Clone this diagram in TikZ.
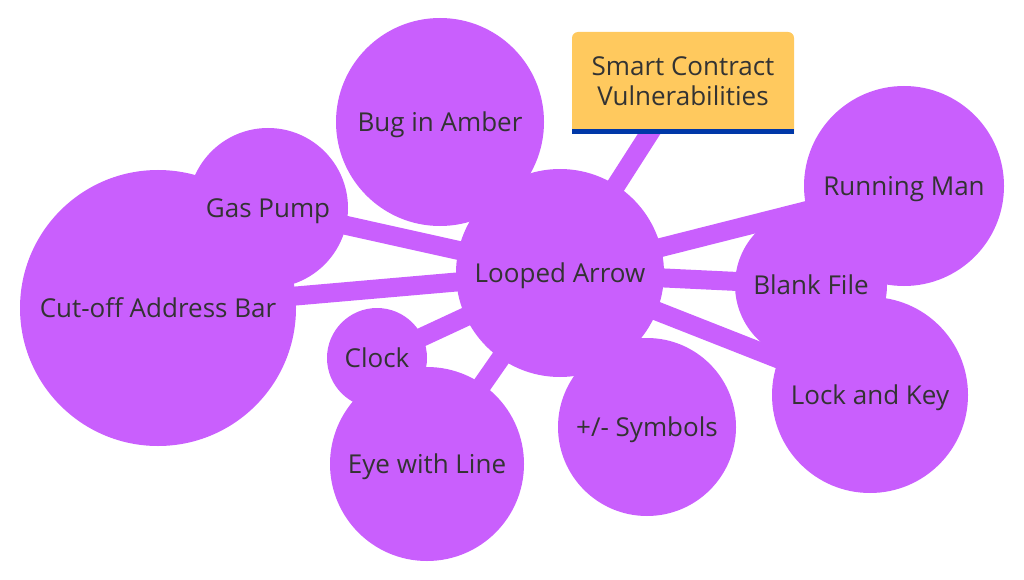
\documentclass[tikz,border=0pt]{standalone}
\usepackage{fontspec}
\setmainfont{Open Sans}
\usetikzlibrary{backgrounds}
\definecolor{bub}{RGB}{201,95,253}
\definecolor{yel}{RGB}{255,201,94}
\definecolor{blu}{RGB}{0,56,168}
\definecolor{txt}{RGB}{51,51,51}
\begin{document}
\begin{tikzpicture}[x=1pt,y=-1pt,
  bubble/.style={circle, fill=bub, inner sep=0pt, text=txt, text height=18.6pt, text depth=0pt, font=\fontsize{26}{30}\selectfont},
  link/.style={draw=bub, line width=19pt},
  boxtext/.style={text=txt, align=center, inner sep=0pt, font=\fontsize{26}{30}\selectfont}]
\useasboundingbox (0,0) rectangle (1024,580);
% bubbles
\node[bubble, minimum size=276] (cab) at (158,308) {Cut-off Address Bar};
\node[bubble, minimum size=160] (gp) at (268,208) {Gas Pump};
\node[bubble, minimum size=208] (ba) at (440,122) {Bug in Amber};
\node[bubble, minimum size=100] (cl) at (377,358) {Clock};
\node[bubble, minimum size=194] (ey) at (427,464) {Eye with Line};
\node[bubble, minimum size=208] (la) at (560,273) {Looped Arrow};
\node[bubble, minimum size=178] (pm) at (647,427) {+/- Symbols};
\node[bubble, minimum size=200] (rm) at (904,186) {Running Man};
\node[bubble, minimum size=196] (lk) at (870,395) {Lock and Key};
\node[bubble, minimum size=152] (bf) at (811,285) {Blank File};
% title box text
\node[boxtext] (sc) at (683,81) {Smart Contract\\Vulnerabilities};
\begin{scope}[on background layer]
  \foreach \t in {cab,gp,cl,ey,pm,rm,lk,bf,sc}
    \draw[link] (la.center) -- (\t.center);
  \fill[yel] (572,134) [rounded corners=6] -- (572,32) -- (794,32) [sharp corners] -- (794,134) -- cycle;
  \fill[blu] (572,129) rectangle (794,134);
\end{scope}
\end{tikzpicture}
\end{document}
